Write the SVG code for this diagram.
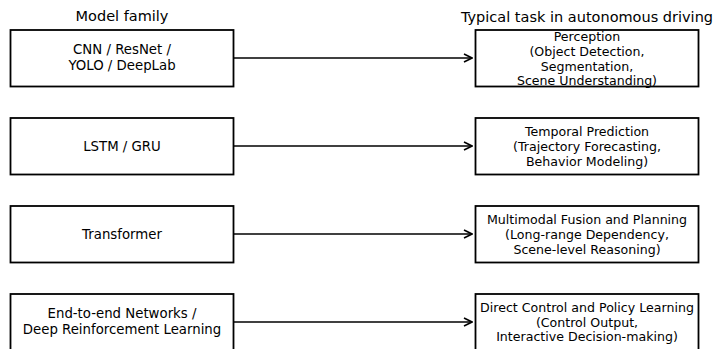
<svg xmlns="http://www.w3.org/2000/svg" width="713" height="349" viewBox="0 0 713 349">
<defs>
<style>
text{font-family:"DejaVu Sans","Liberation Sans",sans-serif;fill:#000;text-anchor:middle}
.h{font-size:14.5px}
.t{font-size:13.3px}
.r{font-size:12.6px}
.box{fill:#fff;stroke:#000;stroke-width:1.8}
.c{stroke:#000;stroke-width:1.6;fill:none}
</style>
<marker id="ah" viewBox="0 0 10 10" refX="9" refY="5" markerWidth="10" markerHeight="10" markerUnits="userSpaceOnUse" orient="auto">
<path d="M1,1 L9,5 L1,9" fill="none" stroke="#000" stroke-width="1.6"/>
</marker>
</defs>
<rect width="713" height="349" fill="#fff"/>
<text class="h" x="122" y="21">Model family</text>
<text class="h" x="587" y="22">Typical task in autonomous driving</text>
<g id="connectors">
<line class="c" x1="234" y1="58" x2="472" y2="58" marker-end="url(#ah)"/>
<line class="c" x1="234" y1="146" x2="472" y2="146" marker-end="url(#ah)"/>
<line class="c" x1="234" y1="234" x2="472" y2="234" marker-end="url(#ah)"/>
<line class="c" x1="234" y1="322" x2="472" y2="322" marker-end="url(#ah)"/>
</g>
<g id="m1"><rect class="box" x="10.5" y="30" width="223" height="56.5"/>
<text class="t" x="122" y="54">CNN / ResNet /</text><text class="t" x="122" y="70">YOLO / DeepLab</text></g>
<g id="m2"><rect class="box" x="10.5" y="118" width="223" height="56.5"/>
<text class="t" x="122" y="150.5">LSTM / GRU</text></g>
<g id="m3"><rect class="box" x="10.5" y="206" width="223" height="56.5"/>
<text class="t" x="122" y="238.5">Transformer</text></g>
<g id="m4"><rect class="box" x="10.5" y="294" width="223" height="56.5"/>
<text class="t" x="122" y="318">End-to-end Networks /</text><text class="t" x="122" y="334">Deep Reinforcement Learning</text></g>
<g id="t1"><rect class="box" x="475.5" y="30" width="223" height="56.5"/>
<text class="r" x="587" y="40.5">Perception</text><text class="r" x="587" y="55.5">(Object Detection,</text><text class="r" x="587" y="70.5">Segmentation,</text><text class="r" x="587" y="85">Scene Understanding)</text></g>
<g id="t2"><rect class="box" x="475.5" y="118" width="223" height="56.5"/>
<text class="r" x="587" y="135.5">Temporal Prediction</text><text class="r" x="587" y="150.5">(Trajectory Forecasting,</text><text class="r" x="587" y="165.5">Behavior Modeling)</text></g>
<g id="t3"><rect class="box" x="475.5" y="206" width="223" height="56.5"/>
<text class="r" x="587" y="223.5">Multimodal Fusion and Planning</text><text class="r" x="587" y="238.5">(Long-range Dependency,</text><text class="r" x="587" y="253.5">Scene-level Reasoning)</text></g>
<g id="t4"><rect class="box" x="475.5" y="294" width="223" height="56.5"/>
<text class="r" x="587" y="311.5">Direct Control and Policy Learning</text><text class="r" x="587" y="326.5">(Control Output,</text><text class="r" x="587" y="341">Interactive Decision-making)</text></g>
</svg>
